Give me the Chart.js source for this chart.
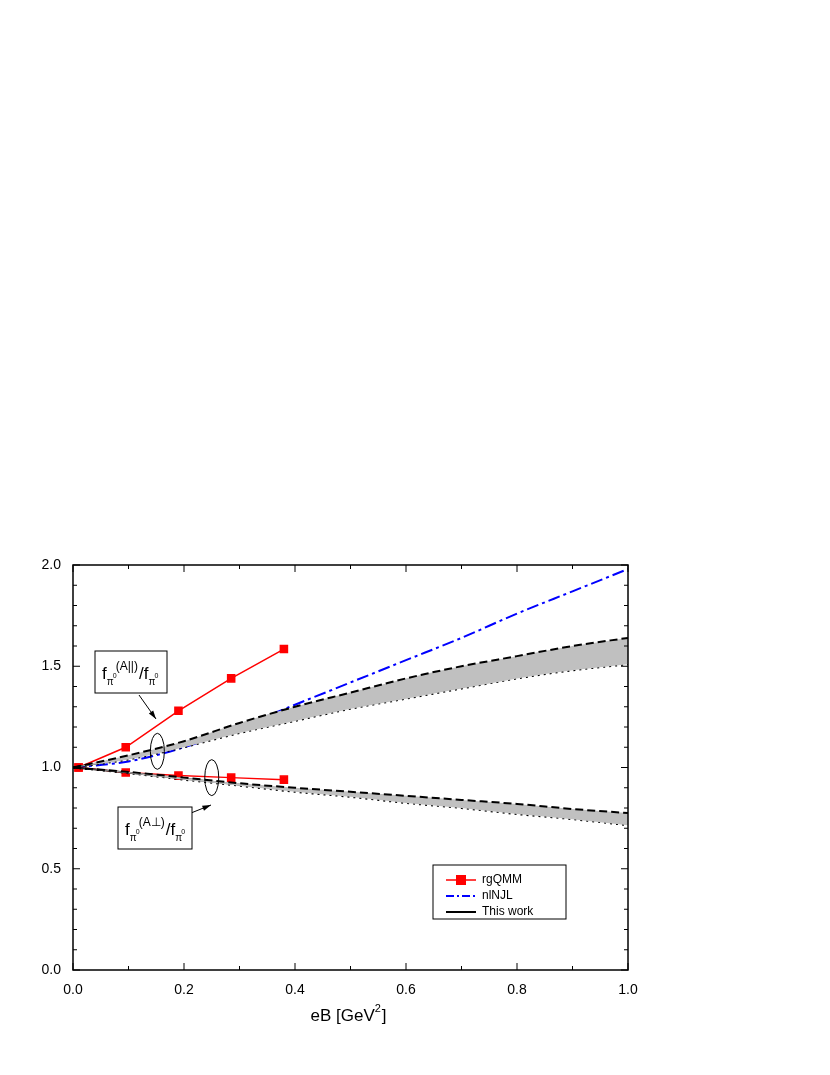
<!DOCTYPE html>
<html>
<head>
<meta charset="utf-8">
<script src="https://cdn.jsdelivr.net/npm/chart.js@4"></script>
<style>
  body { margin: 0; background: #fff; }
  #wrap { width: 830px; height: 1075px; }
</style>
</head>
<body>
<div id="wrap"><canvas id="c" width="830" height="1075"></canvas></div>
<script>
// data
const rgX = [0.01, 0.095, 0.19, 0.285, 0.38];
const rgPar = [1.0, 1.10, 1.28, 1.44, 1.585];
const rgPerp = [1.0, 0.975, 0.96, 0.95, 0.94];

const eB = [0, 0.1, 0.2, 0.3, 0.4, 0.5, 0.6, 0.7, 0.8, 0.9, 1.0];
const nlnjl = [1.0, 1.03, 1.10, 1.20, 1.31, 1.42, 1.53, 1.64, 1.76, 1.87, 1.98];
const parMid = [1.0, 1.05, 1.12, 1.20, 1.27, 1.33, 1.39, 1.44, 1.49, 1.53, 1.57];
const parHi = [1.0, 1.06, 1.13, 1.22, 1.30, 1.37, 1.44, 1.50, 1.55, 1.60, 1.64];
const parLo = [1.0, 1.04, 1.10, 1.17, 1.23, 1.29, 1.34, 1.39, 1.44, 1.48, 1.51];
const perpMid = [1.0, 0.975, 0.945, 0.915, 0.89, 0.865, 0.84, 0.815, 0.79, 0.765, 0.74];
const perpHi = [1.0, 0.978, 0.95, 0.922, 0.90, 0.88, 0.86, 0.84, 0.82, 0.795, 0.775];
const perpLo = [1.0, 0.972, 0.94, 0.91, 0.88, 0.855, 0.825, 0.80, 0.77, 0.745, 0.715];

const pts = (xs, ys) => xs.map((x, i) => ({x: x, y: ys[i]}));
const FONT = '"Liberation Sans", Arial, sans-serif';

function line(data, opts) {
    return Object.assign({data: data, borderColor: '#000', borderWidth: 2, pointRadius: 0,
        fill: false, tension: 0.4, cubicInterpolationMode: 'monotone'}, opts);
}

const datasets = [
    line(pts(eB, parHi), {borderDash: [8, 4], fill: '+1', backgroundColor: '#c0c0c0'}),
    line(pts(eB, parLo), {borderDash: [2, 4]}),
    line(pts(eB, perpHi), {borderDash: [8, 4], fill: '+1', backgroundColor: '#c0c0c0'}),
    line(pts(eB, perpLo), {borderDash: [2, 4]}),
    line(pts(eB, parMid), {borderWidth: 1.8}),
    line(pts(eB, perpMid), {borderWidth: 1.8}),
    line(pts(eB, nlnjl), {borderColor: '#0000ff', borderDash: [12, 4, 3, 4]}),
    {data: pts(rgX, rgPar), borderColor: '#ff0000', backgroundColor: '#ff0000', borderWidth: 1.5,
     pointStyle: 'rect', pointRadius: 5, tension: 0},
    {data: pts(rgX, rgPerp), borderColor: '#ff0000', backgroundColor: '#ff0000', borderWidth: 1.5,
     pointStyle: 'rect', pointRadius: 5, tension: 0}
];

function sub(ctx, x, y, main, supTxt, subTxt, size) {
    // draws main with subscript + superscript, returns new x
    ctx.font = size + 'px ' + FONT;
    ctx.fillText(main, x, y);
    x += ctx.measureText(main).width;
    ctx.font = (size * 0.6) + 'px ' + FONT;
    let w = 0;
    if (subTxt) { ctx.fillText(subTxt, x, y + size * 0.3); w = ctx.measureText(subTxt).width; }
    if (supTxt) {
        ctx.fillText(supTxt, x + w + 1, y - size * 0.55);
        w = Math.max(w, ctx.measureText(supTxt).width + w + 1);
    }
    return x + w;
}

function label(ctx, bx, by, bw, bh, supTxt) {
    ctx.fillStyle = '#fff'; ctx.strokeStyle = '#000'; ctx.lineWidth = 1;
    ctx.fillRect(bx, by, bw, bh); ctx.strokeRect(bx, by, bw, bh);
    ctx.fillStyle = '#000'; ctx.textBaseline = 'alphabetic'; ctx.textAlign = 'left';
    const size = 17, y = by + bh * 0.66;
    let x = bx + 7;
    ctx.font = size + 'px ' + FONT;
    ctx.fillText('f', x, y); x += ctx.measureText('f').width;
    ctx.font = '10px ' + FONT;
    ctx.fillText('π', x, y + 6);
    ctx.font = '7px ' + FONT;
    ctx.fillText('0', x + 6, y - 1);
    ctx.font = '12px ' + FONT;
    ctx.fillText(supTxt, x + 9, y - 9);
    x += 9 + ctx.measureText(supTxt).width + 1;
    ctx.font = size + 'px ' + FONT;
    ctx.fillText('/f', x, y); x += ctx.measureText('/f').width;
    ctx.font = '10px ' + FONT;
    ctx.fillText('π', x, y + 6);
    ctx.font = '7px ' + FONT;
    ctx.fillText('0', x + 6, y - 1);
}

function arrow(ctx, x1, y1, x2, y2) {
    ctx.strokeStyle = '#000'; ctx.fillStyle = '#000'; ctx.lineWidth = 1;
    ctx.beginPath(); ctx.moveTo(x1, y1); ctx.lineTo(x2, y2); ctx.stroke();
    const a = Math.atan2(y2 - y1, x2 - x1), L = 9;
    ctx.beginPath(); ctx.moveTo(x2, y2);
    ctx.lineTo(x2 - L * Math.cos(a - 0.3), y2 - L * Math.sin(a - 0.3));
    ctx.lineTo(x2 - L * Math.cos(a + 0.3), y2 - L * Math.sin(a + 0.3));
    ctx.closePath(); ctx.fill();
}

const decor = {
    id: 'decor',
    afterDraw(chart) {
        const ctx = chart.ctx, xs = chart.scales.x, ys = chart.scales.y, a = chart.chartArea;
        ctx.save();
        // frame and inward ticks
        ctx.strokeStyle = '#000'; ctx.lineWidth = 1.5;
        ctx.strokeRect(a.left, a.top, a.right - a.left, a.bottom - a.top);
        ctx.lineWidth = 1;
        for (let v = 0; v <= 1.0001; v += 0.1) {
            const p = xs.getPixelForValue(v), L = (Math.round(v * 10) % 2 === 0) ? 7 : 4;
            ctx.beginPath(); ctx.moveTo(p, a.bottom); ctx.lineTo(p, a.bottom - L);
            ctx.moveTo(p, a.top); ctx.lineTo(p, a.top + L); ctx.stroke();
        }
        for (let v = 0; v <= 2.0001; v += 0.1) {
            const p = ys.getPixelForValue(v), L = (Math.round(v * 10) % 5 === 0) ? 7 : 4;
            ctx.beginPath(); ctx.moveTo(a.left, p); ctx.lineTo(a.left + L, p);
            ctx.moveTo(a.right, p); ctx.lineTo(a.right - L, p); ctx.stroke();
        }
        // axis title
        ctx.fillStyle = '#000'; ctx.textAlign = 'left'; ctx.textBaseline = 'alphabetic';
        ctx.font = '17px ' + FONT;
        const t1 = 'eB [GeV', w1 = ctx.measureText(t1).width;
        const cx = (a.left + a.right) / 2 - 40;
        ctx.fillText(t1, cx, 1021);
        ctx.font = '11px ' + FONT; ctx.fillText('2', cx + w1, 1012);
        ctx.font = '17px ' + FONT; ctx.fillText(']', cx + w1 + 7, 1021);

        // ellipses
        ctx.lineWidth = 1;
        ctx.beginPath();
        ctx.ellipse(xs.getPixelForValue(0.152), ys.getPixelForValue(1.08), 7, 18, 0, 0, 2 * Math.PI); ctx.stroke();
        ctx.beginPath();
        ctx.ellipse(xs.getPixelForValue(0.25), ys.getPixelForValue(0.95), 7, 18, 0, 0, 2 * Math.PI); ctx.stroke();
        arrow(ctx, 139, 695, 156, 719);
        arrow(ctx, 191, 813, 211, 805);
        label(ctx, 95, 651, 72, 42, '(A||)');
        label(ctx, 118, 807, 74, 42, '(A\u22A5)');

        // legend
        ctx.fillStyle = '#fff'; ctx.strokeStyle = '#000'; ctx.lineWidth = 1;
        ctx.fillRect(433, 865, 133, 54); ctx.strokeRect(433, 865, 133, 54);
        ctx.font = '12px ' + FONT; ctx.textBaseline = 'middle'; ctx.fillStyle = '#000';
        const rows = [['rgQMM', 880], ['nlNJL', 896], ['This work', 912]];
        ctx.lineWidth = 1.5; ctx.strokeStyle = '#ff0000';
        ctx.beginPath(); ctx.moveTo(446, 880); ctx.lineTo(476, 880); ctx.stroke();
        ctx.fillStyle = '#ff0000'; ctx.fillRect(456, 875, 10, 10);
        ctx.strokeStyle = '#0000ff'; ctx.lineWidth = 2; ctx.setLineDash([8, 3, 2, 3]);
        ctx.beginPath(); ctx.moveTo(446, 896); ctx.lineTo(476, 896); ctx.stroke();
        ctx.setLineDash([]); ctx.strokeStyle = '#000';
        ctx.beginPath(); ctx.moveTo(446, 912); ctx.lineTo(476, 912); ctx.stroke();
        ctx.fillStyle = '#000';
        rows.forEach(r => ctx.fillText(r[0], 482, r[1]));
        ctx.restore();
    }
};

new Chart(document.getElementById('c'), {
    type: 'line',
    data: {datasets: datasets},
    options: {
        responsive: false, animation: false,
        layout: {padding: {top: 565, right: 202, left: 0, bottom: 0}},
        plugins: {legend: {display: false}, tooltip: {enabled: false}},
        scales: {
            x: {type: 'linear', min: 0, max: 1,
                grid: {display: false}, border: {display: false},
                ticks: {stepSize: 0.2, color: '#000', font: {size: 14, family: FONT},
                        padding: 4, callback: v => v.toFixed(1)},
                afterFit: s => { s.height = 105; }},
            y: {min: 0, max: 2,
                grid: {display: false}, border: {display: false},
                ticks: {stepSize: 0.5, color: '#000', font: {size: 14, family: FONT},
                        padding: 4, callback: v => v.toFixed(1)},
                afterFit: s => { s.width = 73; }}
        }
    },
    plugins: [decor]
});
</script>
</body>
</html>
